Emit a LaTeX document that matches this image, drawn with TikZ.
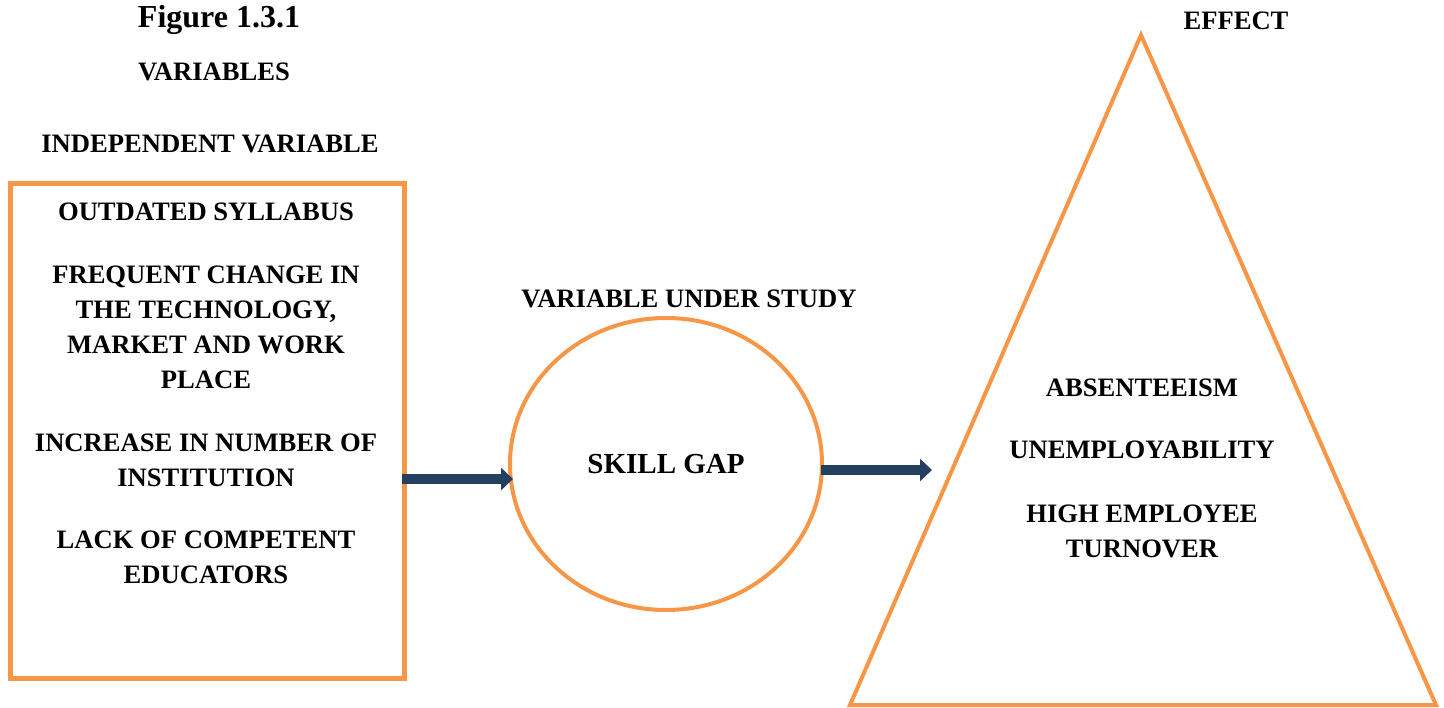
\documentclass[tikz,border=0pt]{standalone}
\usepackage{fontspec}
\setmainfont{Liberation Serif}
\usetikzlibrary{arrows.meta,shapes.geometric}
\definecolor{frame}{HTML}{F79646}
\definecolor{navy}{HTML}{243F60}
\begin{document}
\begin{tikzpicture}[x=1pt,y=-1pt,
  lbl/.style={font=\fontsize{26.6}{35}\selectfont\bfseries, align=center, inner sep=0pt},
  ttl/.style={font=\fontsize{32}{38}\selectfont\bfseries, inner sep=0pt},
  arr/.style={draw=navy, line width=10pt, -{Triangle[length=12pt,width=22pt]}}]
\useasboundingbox (0,0) rectangle (1444,708);

% headings
\node[ttl] (fig) at (219,20) {Figure 1.3.1};
\node[lbl] (vars) at (214,72) {VARIABLES};
\node[lbl] (indep) at (210,144) {INDEPENDENT VARIABLE};
\node[lbl] (under) at (689,299) {VARIABLE UNDER STUDY};
\node[lbl] (effect) at (1236,21) {EFFECT};

% independent variable box
\node[draw=frame, line width=5pt, outer sep=0pt, minimum width=394pt, minimum height=494pt, inner sep=0pt] (box) at (207,431) {};
\node[lbl] (c1) at (206,212) {OUTDATED SYLLABUS};
\node[lbl] (c2) at (206,327) {FREQUENT CHANGE IN\\THE TECHNOLOGY,\\MARKET AND WORK\\PLACE};
\node[lbl] (c3) at (206,460) {INCREASE IN NUMBER OF\\INSTITUTION};
\node[lbl] (c4) at (206,557) {LACK OF COMPETENT\\EDUCATORS};

% variable under study
\node[draw=frame, line width=4pt, ellipse, outer sep=0pt, minimum width=312pt, minimum height=292pt, inner sep=0pt,
      font=\fontsize{29}{35}\selectfont\bfseries] (skill) at (666,464) {SKILL GAP};

% effect triangle
\coordinate (apex) at (1141,35);
\coordinate (bl) at (850,705);
\coordinate (br) at (1436,705);
\draw[frame, line width=4pt] (apex) -- (bl) -- (br) -- cycle;
\node[lbl] (e1) at (1142,388) {ABSENTEEISM};
\node[lbl] (e2) at (1142,450) {UNEMPLOYABILITY};
\node[lbl] (e3) at (1142,531) {HIGH EMPLOYEE\\TURNOVER};

% connectors
\coordinate (effin) at (932,470);
\draw[arr] ([yshift=-48pt,xshift=-2pt]box.east) -- ([yshift=-15pt,xshift=3pt]skill.west);
\draw[arr] ([yshift=-6pt,xshift=-1pt]skill.east) -- (effin);
\end{tikzpicture}
\end{document}
